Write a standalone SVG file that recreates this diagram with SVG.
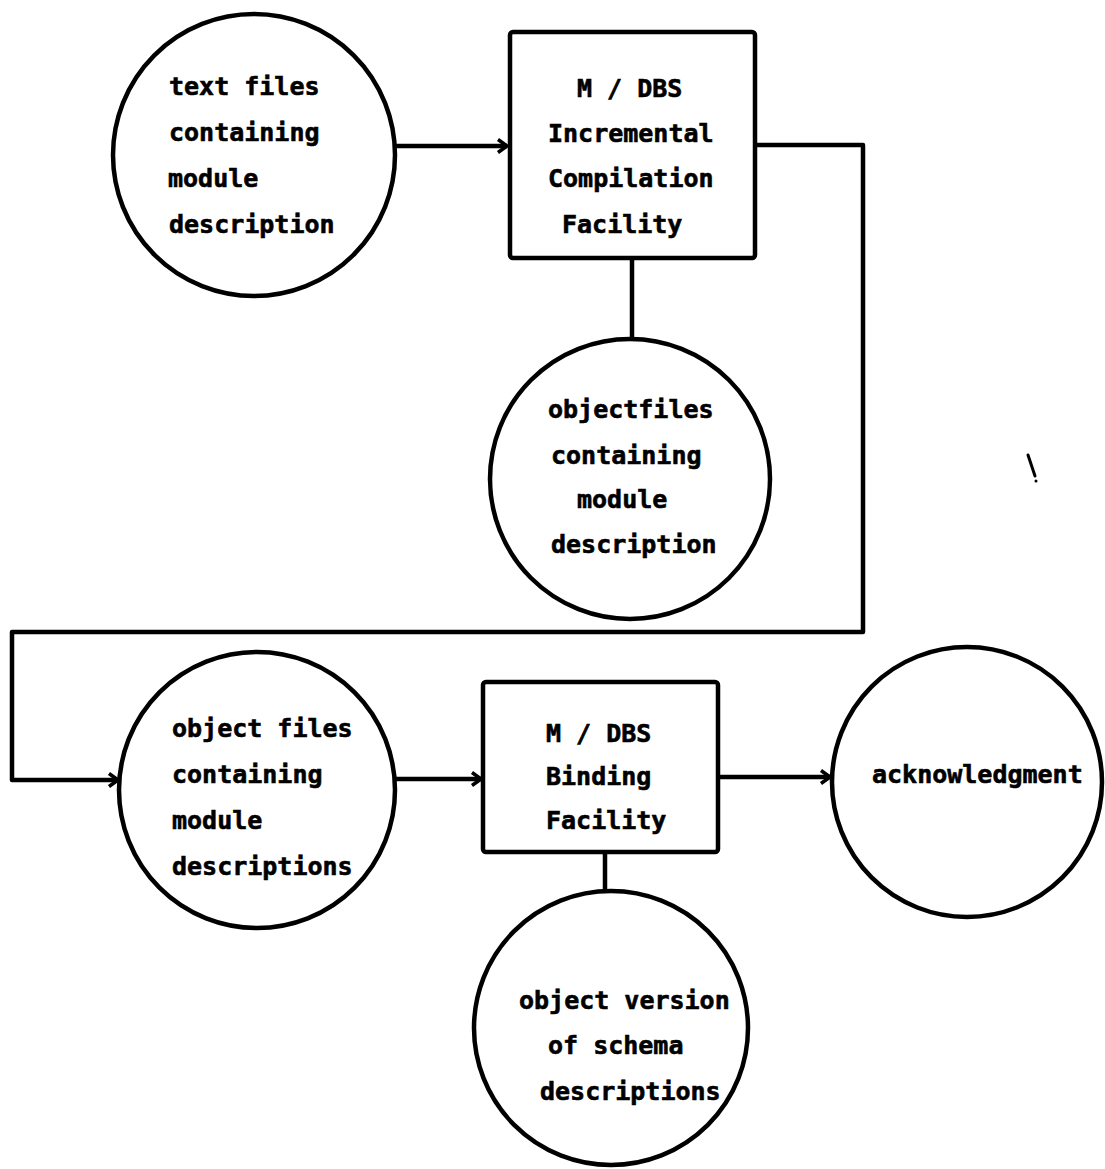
<svg xmlns="http://www.w3.org/2000/svg" width="1105" height="1169" viewBox="0 0 1105 1169">
  <style>
    .shape { fill: #ffffff; stroke: #000000; stroke-width: 4.5; }
    .wire { fill: none; stroke: #000000; stroke-width: 4.5; stroke-linejoin: round; }
    .label { font-family: "DejaVu Sans Mono", "Liberation Mono", monospace; font-weight: bold; font-size: 25px; fill: #000000; stroke: #000000; stroke-width: 0.6; }
  </style>
  <defs>
    <marker id="arrow" viewBox="0 0 12 16" refX="11" refY="8" markerWidth="12" markerHeight="16" markerUnits="userSpaceOnUse" orient="auto">
      <polyline points="2,1.5 11,8 2,14.5" fill="none" stroke="#000000" stroke-width="3.5" stroke-linejoin="miter"/>
    </marker>
  </defs>
  <rect width="1105" height="1169" fill="#ffffff"/>

  <!-- connectors -->
  <g id="connectors">
    <path class="wire" d="M395,146 L507,146" marker-end="url(#arrow)"/>
    <path class="wire" d="M755,145 L863,145 L863,632 L12,632 L12,780 L118,780" marker-end="url(#arrow)"/>
    <path class="wire" d="M632,258 L632,340"/>
    <path class="wire" d="M395,779 L481,779" marker-end="url(#arrow)"/>
    <path class="wire" d="M718,777 L830,777" marker-end="url(#arrow)"/>
    <path class="wire" d="M605,852 L605,891"/>
  </g>

  <!-- source text files -->
  <g id="text-files">
    <circle class="shape" cx="254" cy="155" r="141"/>
    <text class="label" x="169" y="95">text files</text>
    <text class="label" x="169" y="141">containing</text>
    <text class="label" x="168" y="187">module</text>
    <text class="label" x="169" y="233">description</text>
  </g>

  <!-- incremental compiler -->
  <g id="compilation-facility">
    <rect class="shape" x="510" y="32" width="245" height="226" rx="3"/>
    <text class="label" x="577" y="97">M / DBS</text>
    <text class="label" x="548" y="142">Incremental</text>
    <text class="label" x="548" y="187">Compilation</text>
    <text class="label" x="562" y="233">Facility</text>
  </g>

  <!-- compiled object files -->
  <g id="objectfiles">
    <circle class="shape" cx="630" cy="479" r="140"/>
    <text class="label" x="548" y="418">objectfiles</text>
    <text class="label" x="551" y="464">containing</text>
    <text class="label" x="577" y="508">module</text>
    <text class="label" x="551" y="553">description</text>
  </g>

  <!-- object files fed to the binder -->
  <g id="object-files">
    <circle class="shape" cx="257" cy="790" r="138"/>
    <text class="label" x="172" y="737">object files</text>
    <text class="label" x="172" y="783">containing</text>
    <text class="label" x="172" y="829">module</text>
    <text class="label" x="172" y="875">descriptions</text>
  </g>

  <!-- binder -->
  <g id="binding-facility">
    <rect class="shape" x="483" y="682" width="235" height="170" rx="3"/>
    <text class="label" x="546" y="742">M / DBS</text>
    <text class="label" x="546" y="785">Binding</text>
    <text class="label" x="546" y="829">Facility</text>
  </g>

  <!-- binder output -->
  <g id="acknowledgment">
    <circle class="shape" cx="967" cy="782" r="135"/>
    <text class="label" x="872" y="783">acknowledgment</text>
  </g>

  <g id="schema-object">
    <circle class="shape" cx="611" cy="1028" r="137"/>
    <text class="label" x="519" y="1009">object version</text>
    <text class="label" x="548" y="1054">of schema</text>
    <text class="label" x="540" y="1100">descriptions</text>
  </g>

  <!-- stray pen mark -->
  <path d="M1028,455 L1035,476" stroke="#000000" stroke-width="3" fill="none" stroke-linecap="round"/>
  <circle cx="1036" cy="481" r="1.5" fill="#000000"/>
</svg>
